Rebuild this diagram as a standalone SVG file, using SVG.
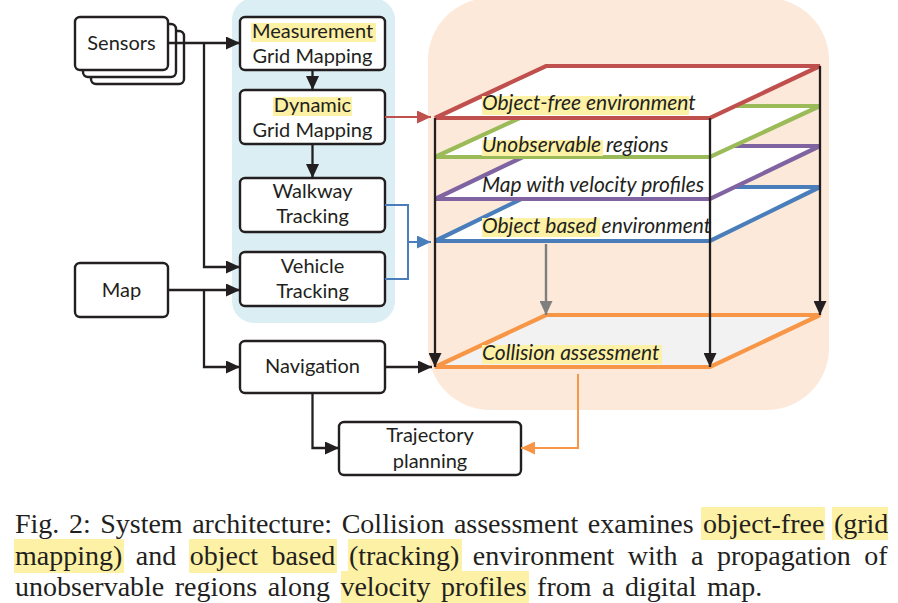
<svg xmlns="http://www.w3.org/2000/svg" width="898" height="603" viewBox="0 0 898 603">
<defs>
<style>
.box{fill:#ffffff;stroke:#231f20;stroke-width:2.4}
.lbl{font-family:Lato,"Open Sans","Noto Sans",sans-serif;font-size:20px;fill:#231f20;text-anchor:middle}
.it{font-family:Lato,"Open Sans","Noto Sans",sans-serif;font-size:21px;font-style:italic;fill:#231f20}
.hl{fill:#fdf1a5}
.con{fill:none;stroke:#231f20;stroke-width:2.3}
.plane{fill:#ffffff;stroke-width:4.2;stroke-linejoin:miter}
.cap{font-family:"Liberation Serif","Times New Roman",serif;font-size:28px;fill:#231f20}
</style>
<marker id="ab" markerUnits="userSpaceOnUse" markerWidth="15" markerHeight="13" refX="14" refY="6.5" orient="auto"><path d="M0,0 L14,6.5 L0,13 z" fill="#231f20"/></marker>
<marker id="ar" markerUnits="userSpaceOnUse" markerWidth="15" markerHeight="13" refX="14" refY="6.5" orient="auto"><path d="M0,0 L14,6.5 L0,13 z" fill="#c0504d"/></marker>
<marker id="abl" markerUnits="userSpaceOnUse" markerWidth="15" markerHeight="13" refX="14" refY="6.5" orient="auto"><path d="M0,0 L14,6.5 L0,13 z" fill="#4a7ebb"/></marker>
<marker id="ao" markerUnits="userSpaceOnUse" markerWidth="15" markerHeight="13" refX="14" refY="6.5" orient="auto"><path d="M0,0 L14,6.5 L0,13 z" fill="#f79646"/></marker>
<marker id="ag" markerUnits="userSpaceOnUse" markerWidth="15" markerHeight="13" refX="14" refY="6.5" orient="auto"><path d="M0,0 L14,6.5 L0,13 z" fill="#7f7f7f"/></marker>
</defs>
<rect width="898" height="603" fill="#ffffff"/>

<!-- background panels -->
<rect id="panel-grid" x="232" y="-2" width="163" height="325" rx="22" fill="#daeef3"/>
<rect id="panel-collision" x="428" y="-2" width="401" height="412" rx="62" fill="#fde9d9"/>

<!-- nodes -->
<g id="sensors">
<rect class="box" x="91" y="31" width="93" height="53" rx="5"/>
<rect class="box" x="83" y="24" width="93" height="53" rx="5"/>
<rect class="box" x="75" y="17" width="93" height="53" rx="5"/>
<text class="lbl" x="121.5" y="50">Sensors</text>
</g>
<g id="measurement">
<rect class="box" x="240" y="17" width="145" height="53" rx="5"/>
<rect class="hl" x="251" y="23" width="125" height="19"/>
<text class="lbl" x="312.5" y="38">Measurement</text>
<text class="lbl" x="312.5" y="63">Grid Mapping</text>
</g>
<g id="dynamic">
<rect class="box" x="240" y="90" width="145" height="54" rx="5"/>
<rect class="hl" x="273" y="97" width="79" height="19"/>
<text class="lbl" x="312.5" y="112">Dynamic</text>
<text class="lbl" x="312.5" y="137">Grid Mapping</text>
</g>
<g id="walkway">
<rect class="box" x="240" y="178" width="145" height="54" rx="5"/>
<text class="lbl" x="312.5" y="198">Walkway</text>
<text class="lbl" x="312.5" y="223">Tracking</text>
</g>
<g id="vehicle">
<rect class="box" x="240" y="252" width="145" height="54" rx="5"/>
<text class="lbl" x="312.5" y="273">Vehicle</text>
<text class="lbl" x="312.5" y="298">Tracking</text>
</g>
<g id="map">
<rect class="box" x="75" y="263" width="93" height="54" rx="5"/>
<text class="lbl" x="121.5" y="297">Map</text>
</g>
<g id="navigation">
<rect class="box" x="240" y="341" width="145" height="52" rx="5"/>
<text class="lbl" x="312.5" y="373">Navigation</text>
</g>
<g id="trajectory">
<rect class="box" x="339" y="422" width="182" height="53" rx="5"/>
<text class="lbl" x="430" y="442">Trajectory</text>
<text class="lbl" x="430" y="468">planning</text>
</g>

<!-- layer stack -->
<g id="collision-assessment">
<polygon class="plane" points="435,367 546,315 820,315 710,367" style="fill:#f1f2f1" stroke="#f79646"/>
<rect class="hl" x="482" y="345" width="180" height="19"/>
<text class="it" x="482" y="360">Collision assessment</text>
</g>
<g id="object-based">
<polygon class="plane" points="435,241 546,187 820,187 710,241" stroke="#4a7ebb"/>
<rect class="hl" x="482" y="218" width="118" height="19"/>
<text class="it" x="482" y="233">Object based environment</text>
</g>
<g id="velocity-map">
<polygon class="plane" points="435,199 546,146 820,146 710,199" stroke="#8064a2"/>
<text class="it" x="482" y="192">Map with velocity profiles</text>
</g>
<g id="unobservable">
<polygon class="plane" points="435,157 546,106 820,106 710,157" stroke="#9bbb59"/>
<rect class="hl" x="482" y="140" width="121" height="16"/>
<text class="it" x="482" y="152">Unobservable regions</text>
</g>
<g id="object-free">
<polygon class="plane" points="435,118 546,66 820,66 710,118" stroke="#c0504d"/>
<rect class="hl" x="482" y="96" width="207" height="19"/>
<text class="it" x="482" y="110">Object-free environment</text>
</g>

<!-- connectors -->
<g id="connectors">
<path class="con" d="M168,43 H240" marker-end="url(#ab)"/>
<path class="con" d="M204,43 V267 H240" marker-end="url(#ab)"/>
<path class="con" d="M168,290 H240" marker-end="url(#ab)"/>
<path class="con" d="M204,290 V367 H240" marker-end="url(#ab)"/>
<path class="con" d="M312.5,70 V90" marker-end="url(#ab)"/>
<path class="con" d="M312.5,144 V178" marker-end="url(#ab)"/>
<path class="con" d="M385,367 H432" marker-end="url(#ab)"/>
<path class="con" d="M312.5,393 V448 H339" marker-end="url(#ab)"/>
<path fill="none" stroke="#c0504d" stroke-width="2" d="M385,117 H431" marker-end="url(#ar)"/>
<path fill="none" stroke="#4a7ebb" stroke-width="2" d="M385,205 H408 V279 H385"/>
<path fill="none" stroke="#4a7ebb" stroke-width="2" d="M408,242 H431" marker-end="url(#abl)"/>
<path fill="none" stroke="#f79646" stroke-width="2" d="M578,374 V448 H521" marker-end="url(#ao)"/>
<path fill="none" stroke="#7f7f7f" stroke-width="2.4" d="M546,244 V315" marker-end="url(#ag)"/>
<path class="con" d="M435,118 V367" marker-end="url(#ab)"/>
<path class="con" d="M710,118 V367" marker-end="url(#ab)"/>
<path class="con" d="M820,66 V315" marker-end="url(#ab)"/>
</g>

<!-- caption -->
<g id="caption">
<rect class="hl" x="701" y="507" width="124" height="33"/>
<rect class="hl" x="832" y="507" width="56" height="33"/>
<rect class="hl" x="14" y="539" width="110" height="34"/>
<rect class="hl" x="189" y="539" width="148" height="34"/>
<rect class="hl" x="348" y="539" width="114" height="34"/>
<rect class="hl" x="341" y="571" width="188" height="32"/>
<text class="cap" y="533"><tspan x="15">Fig.</tspan><tspan x="68.9">2:</tspan><tspan x="100.2">System</tspan><tspan x="192.2">architecture:</tspan><tspan x="341.7">Collision</tspan><tspan x="453.9">assessment</tspan><tspan x="587.8">examines</tspan><tspan x="703.1">object-free</tspan><tspan x="833.9">(grid</tspan></text>
<text class="cap" y="565"><tspan x="15">mapping)</tspan><tspan x="135.8">and</tspan><tspan x="189.7">object</tspan><tspan x="271.6">based</tspan><tspan x="348.9">(tracking)</tspan><tspan x="472.8">environment</tspan><tspan x="627.8">with</tspan><tspan x="691.1">a</tspan><tspan x="717">propagation</tspan><tspan x="864.3">of</tspan></text>
<text class="cap" y="596"><tspan x="15">unobservable</tspan><tspan x="174.8">regions</tspan><tspan x="267.7">along</tspan><tspan x="340.4">velocity</tspan><tspan x="441.1">profiles</tspan><tspan x="537.1">from</tspan><tspan x="602">a</tspan><tspan x="624.9">digital</tspan><tspan x="707">map.</tspan></text>
</g>
</svg>
